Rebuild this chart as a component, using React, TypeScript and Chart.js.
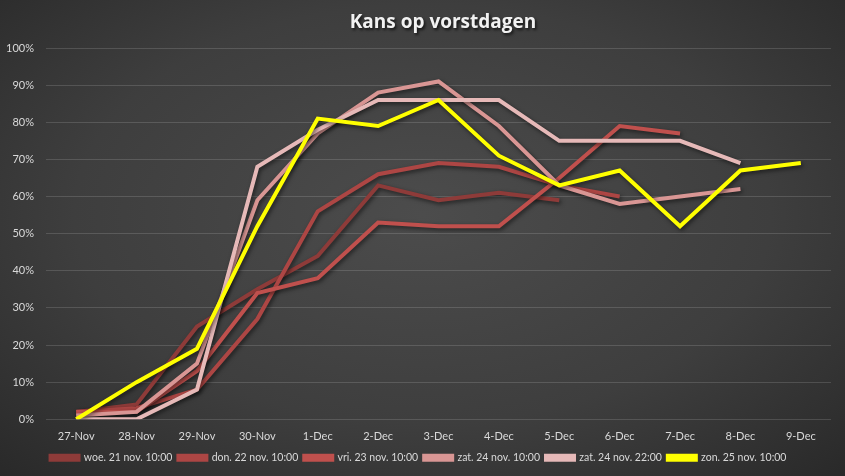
import { useEffect, useRef } from "react";
import { Chart, registerables } from "chart.js";

Chart.register(...registerables);

const categories = [
  "27-Nov", "28-Nov", "29-Nov", "30-Nov", "1-Dec", "2-Dec", "3-Dec",
  "4-Dec", "5-Dec", "6-Dec", "7-Dec", "8-Dec", "9-Dec",
];

const seriesNames = [
  "woe. 21 nov. 10:00",
  "don. 22 nov. 10:00",
  "vri. 23 nov. 10:00",
  "zat. 24 nov. 10:00",
  "zat. 24 nov. 22:00",
  "zon. 25 nov. 10:00",
];

const woe21 = [2, 4, 25, 35, 44, 63, 59, 61, 59];
const don22 = [2, 3, 8, 27, 56, 66, 69, 68, 63, 60];
const vri23 = [2, 2, 13, 34, 38, 53, 52, 52, 65, 79, 77];
const zat24a = [1, 2, 15, 59, 77, 88, 91, 79, 63, 58, 60, 62];
const zat24b = [0, 0, 8, 68, 78, 86, 86, 86, 75, 75, 75, 69];
const zon25 = [0, 10, 19, 52, 81, 79, 86, 71, 63, 67, 52, 67, 69];

const seriesValues = [woe21, don22, vri23, zat24a, zat24b, zon25];
const seriesColors = ["#8e3b39", "#ad4644", "#c0504d", "#d99694", "#e6b9b8", "#ffff00"];

const yTicks = [0, 10, 20, 30, 40, 50, 60, 70, 80, 90, 100];
const titleText = "Kans op vorstdagen";

// soft drop shadow under the lines, like the Excel original
const lineShadow = {
  id: "lineShadow",
  beforeDatasetsDraw(chart: Chart) {
    const ctx = chart.ctx;
    ctx.save();
    ctx.shadowColor = "rgba(0,0,0,0.55)";
    ctx.shadowBlur = 4;
    ctx.shadowOffsetX = 1.5;
    ctx.shadowOffsetY = 2;
  },
  afterDatasetsDraw(chart: Chart) {
    chart.ctx.restore();
  },
};

// the title sits a bit right of centre in the original, with a shadow
const shadowTitle = {
  id: "shadowTitle",
  afterDraw(chart: Chart) {
    const ctx = chart.ctx;
    ctx.save();
    ctx.font = "bold 19px 'Open Sans'";
    ctx.fillStyle = "#f2f2f2";
    ctx.textAlign = "center";
    ctx.textBaseline = "middle";
    ctx.shadowColor = "rgba(0,0,0,0.7)";
    ctx.shadowBlur = 3;
    ctx.shadowOffsetX = 1.5;
    ctx.shadowOffsetY = 1.5;
    ctx.fillText(titleText, 443, 23);
    ctx.restore();
  },
};

export default function App() {
  const canvasRef = useRef<HTMLCanvasElement | null>(null);
  const chartRef = useRef<Chart | null>(null);

  useEffect(() => {
    document.body.style.margin = "0";
    if (!canvasRef.current) return;
    if (chartRef.current) chartRef.current.destroy();

    chartRef.current = new Chart(canvasRef.current, {
      type: "line",
      data: {
        labels: categories,
        datasets: seriesValues.map((values, i) => ({
          label: seriesNames[i],
          data: values,
          borderColor: seriesColors[i],
          backgroundColor: seriesColors[i],
          borderWidth: 4,
          pointRadius: 0,
          tension: 0,
          fill: false,
          order: seriesValues.length - i,
        })),
      },
      options: {
        responsive: true,
        maintainAspectRatio: false,
        animation: false,
        layout: { padding: { left: 6, right: 14, top: 48, bottom: 3 } },
        plugins: {
          title: { display: false },
          legend: {
            position: "bottom",
            labels: {
              color: "#d9d9d9",
              font: { family: "Lato", size: 10.5 },
              boxWidth: 28,
              boxHeight: 4,
              padding: 6,
              sort: (a, b) => (a.datasetIndex ?? 0) - (b.datasetIndex ?? 0),
            },
          },
          tooltip: { enabled: false },
        },
        scales: {
          x: {
            offset: true,
            grid: { display: false },
            border: { display: false },
            ticks: {
              color: "#d9d9d9",
              font: { family: "Lato", size: 11 },
              padding: 3,
              maxRotation: 0,
              autoSkip: false,
            },
          },
          y: {
            min: 0,
            max: 100,
            afterFit: (scale) => {
              scale.width = 40;
            },
            afterBuildTicks: (scale) => {
              scale.ticks = yTicks.map((v) => ({ value: v }));
            },
            grid: { color: "rgba(255,255,255,0.14)", lineWidth: 1, drawTicks: false },
            border: { display: false },
            ticks: {
              color: "#d9d9d9",
              font: { family: "Lato", size: 11 },
              padding: 12,
              callback: (v) => `${v}%`,
            },
          },
        },
      },
      plugins: [lineShadow, shadowTitle],
    });

    return () => {
      if (chartRef.current) {
        chartRef.current.destroy();
        chartRef.current = null;
      }
    };
  }, []);

  return (
    <div
      style={{
        position: "fixed",
        left: 0,
        top: 0,
        width: "845px",
        height: "476px",
        background:
          "radial-gradient(ellipse 75% 80% at 50% 45%, #4c4c4c 0%, #3e3e3e 55%, #272727 100%)",
      }}
    >
      <canvas ref={canvasRef}></canvas>
    </div>
  );
}
